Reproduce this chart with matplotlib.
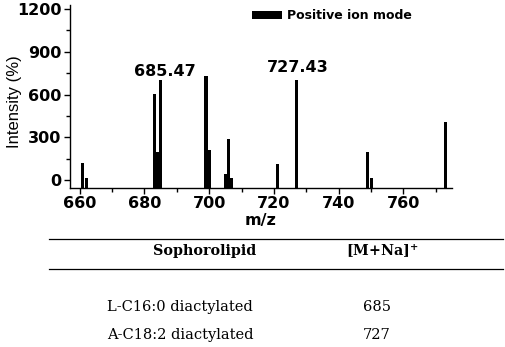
import matplotlib
matplotlib.use("Agg")
import matplotlib.pyplot as plt
from matplotlib.lines import Line2D

# data
mz = [661, 662, 683, 684, 685, 699, 700, 705, 706, 707, 721, 727, 749, 750, 773]
intensity = [120, 12, 605, 195, 700, 730, 210, 45, 285, 15, 112, 702, 195, 12, 405]
peak_labels = ["685.47", "727.43"]
peak_label_pos = [(686.3, 758), (727.2, 786)]
xticks = [660, 680, 700, 720, 740, 760]
yticks = [0, 300, 600, 900, 1200]
legend_label = "Positive ion mode"
table_header = ["Sophorolipid", "[M+Na]$^{\\mathbf{+}}$"]
table_rows = [("L-C16:0 diactylated", "685"), ("A-C18:2 diactylated", "727")]

plt.rcParams['mathtext.fontset'] = 'dejavuserif'

fig = plt.figure(figsize=(5.05, 3.47), dpi=100)
ax = fig.add_axes([70/505, 1-188/347, 382/505, 183/347])

ybase = -56
ax.bar(mz, [v - ybase for v in intensity], bottom=ybase, width=0.95,
       color='black', label=legend_label)
ax.set_xlim(657, 775)
ax.set_ylim(ybase, 1228)

for s in ['top', 'right']:
    ax.spines[s].set_visible(False)
for s in ['left', 'bottom']:
    ax.spines[s].set_linewidth(1.0)

ax.set_xticks(xticks)
ax.set_xticks([670, 690, 710, 730, 750, 770], minor=True)
ax.set_yticks(yticks)
ax.set_yticks([150, 450, 750, 1050], minor=True)
ax.tick_params(axis='both', which='major', direction='out', length=4, width=1,
               labelsize=11.5, pad=2)
ax.tick_params(axis='both', which='minor', direction='out', length=3, width=1)
for lab in ax.get_xticklabels() + ax.get_yticklabels():
    lab.set_fontweight('bold')

ax.set_xlabel("m/z", fontsize=11.5, fontweight='bold', labelpad=1)
ax.set_ylabel("Intensity (%)", fontsize=12, family='Liberation Sans')
ax.yaxis.set_label_coords(-0.125, 0.47)

for txt, (x, y) in zip(peak_labels, peak_label_pos):
    ax.text(x, y, txt, ha='center', va='center', fontsize=11.5, fontweight='bold')

leg = ax.legend(loc='center left', bbox_to_anchor=(0.476, 0.94), frameon=False,
                prop={'weight': 'bold', 'size': 9}, handlelength=2.4,
                handleheight=0.6, handletextpad=0.4, borderpad=0, borderaxespad=0)

# table
fig.add_artist(Line2D([49/505, 503/505], [1-239/347, 1-239/347], color='black', lw=0.9))
fig.add_artist(Line2D([49/505, 503/505], [1-269/347, 1-269/347], color='black', lw=0.9))
fig.text(205/505, 1-251/347, table_header[0], ha='center', va='center',
         family='DejaVu Serif', fontweight='bold', fontsize=10.3)
fig.text(382/505, 1-251/347, table_header[1], ha='center', va='center',
         family='DejaVu Serif', fontweight='bold', fontsize=10.3)
row_y = [1-307/347, 1-335/347]
for (name, val), y in zip(table_rows, row_y):
    fig.text(180/505, y, name, ha='center', va='center', family='DejaVu Serif', fontsize=10.5)
    fig.text(377/505, y, val, ha='center', va='center', family='DejaVu Serif', fontsize=10.5)

fig.savefig("out.png", dpi=100)
